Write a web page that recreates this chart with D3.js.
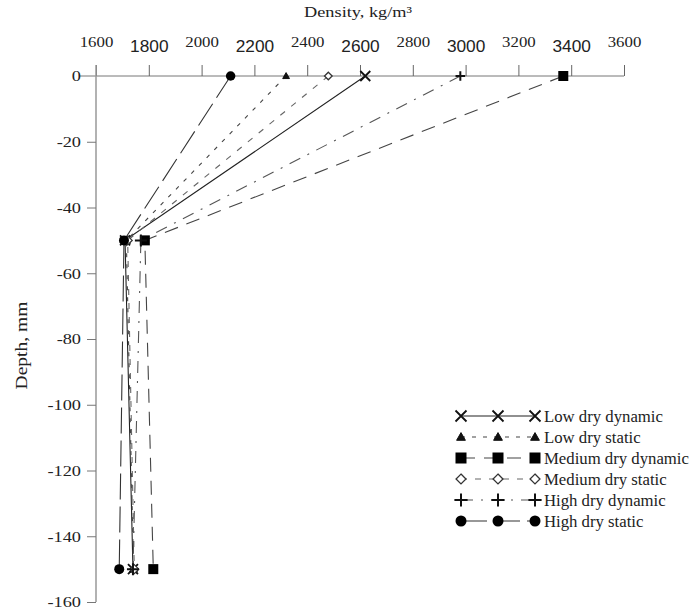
<!DOCTYPE html>
<html>
<head>
<meta charset="utf-8">
<script src="https://cdn.jsdelivr.net/npm/d3@7"></script>
<style>
  html, body { margin: 0; padding: 0; background: #fff; }
  svg { display: block; }
</style>
</head>
<body>
<svg id="chart" width="695" height="612"></svg>
<script>
// Depth levels (mm) at which density was measured
const depths = [0, -50, -150];

// Density (kg/m³) per series at each depth
const lowDryDynamic    = [2620, 1710, 1740];
const lowDryStatic     = [2320, 1715, 1742];
const mediumDryDynamic = [3370, 1785, 1817];
const mediumDryStatic  = [2480, 1720, 1745];
const highDryDynamic   = [2980, 1770, 1740];
const highDryStatic    = [2110, 1706, 1688];

const seriesNames = ["Low dry dynamic", "Low dry static", "Medium dry dynamic",
                     "Medium dry static", "High dry dynamic", "High dry static"];
const seriesValues = [lowDryDynamic, lowDryStatic, mediumDryDynamic,
                      mediumDryStatic, highDryDynamic, highDryStatic];

const densityTicks = [1600, 1800, 2000, 2200, 2400, 2600, 2800, 3000, 3200, 3400, 3600];
const depthTicks = [0, -20, -40, -60, -80, -100, -120, -140, -160];

// Per-series drawing style
const styles = [
  { marker: "x",        dash: null,       stroke: "#222" },
  { marker: "triangle", dash: "4,7",      stroke: "#444" },
  { marker: "square",   dash: "14,9",     stroke: "#444" },
  { marker: "diamond",  dash: "6,8",      stroke: "#666" },
  { marker: "plus",     dash: "12,8,2,8", stroke: "#555" },
  { marker: "circle",   dash: "26,7",     stroke: "#333" }
];

const svg = d3.select("#chart");
const x = d3.scaleLinear().domain([1600, 3600]).range([96, 624]);
const y = d3.scaleLinear().domain([0, -160]).range([76, 602]);

const serif = "'Liberation Serif', 'Times New Roman', serif";
const sans = "'Liberation Sans', Arial, sans-serif";
const stretch = 1.22; // horizontal widening of the serif lettering

// Top density axis
const topAxis = svg.append("g")
  .attr("transform", `translate(0,${y(0)})`)
  .call(d3.axisTop(x).tickValues(densityTicks).tickSize(11).tickSizeOuter(0).tickPadding(14)
    .tickFormat(d => String(d)));
topAxis.select(".domain").attr("stroke", "#777").attr("d", `M${x(1600) - 16},0H${x(3600)}`);
topAxis.selectAll(".tick line").attr("stroke", "#666");
topAxis.selectAll(".tick text")
  .attr("fill", "#222")
  .each(function(d, i) {
    const t = d3.select(this);
    if (i % 2 === 0) {
      t.attr("font-family", serif).attr("font-size", 15).attr("dy", "-0.25em")
        .attr("transform", "scale(1.12,1)");
    } else {
      t.attr("font-family", sans).attr("font-size", 16).attr("dy", "0.05em")
        .attr("transform", "scale(1.08,1)");
    }
  });

// Left depth axis
const leftAxis = svg.append("g")
  .attr("transform", `translate(${x(1600)},0)`)
  .call(d3.axisLeft(y).tickValues(depthTicks).tickSize(9).tickSizeOuter(0).tickPadding(6)
    .tickFormat(d => String(d)));
leftAxis.select(".domain").attr("stroke", "#999").attr("stroke-width", 1.5)
  .attr("d", `M0,${y(0) - 11}V${y(-160)}`);
leftAxis.selectAll(".tick line").attr("stroke", "#777");
leftAxis.selectAll(".tick").filter(d => d === 0).select("line").remove();
leftAxis.selectAll(".tick text")
  .attr("font-family", serif).attr("font-size", 15).attr("fill", "#222")
  .attr("x", -15 / stretch)
  .attr("transform", `scale(${stretch},1)`);

// Axis titles
svg.append("text")
  .attr("transform", `translate(358,17) scale(${stretch},1)`)
  .attr("text-anchor", "middle")
  .attr("font-family", serif).attr("font-size", 15).attr("fill", "#222")
  .text("Density, kg/m³");

svg.append("text")
  .attr("transform", `translate(27,${y(-82)}) rotate(-90) scale(${stretch},1)`)
  .attr("text-anchor", "middle")
  .attr("font-family", serif).attr("font-size", 16).attr("fill", "#222")
  .text("Depth, mm");

// Marker drawing helper
function drawMarker(g, type, cx, cy, scale) {
  const s = scale || 1;
  if (type === "x") {
    const r = 5 * s;
    g.append("path")
      .attr("d", `M${cx - r},${cy - r}L${cx + r},${cy + r}M${cx - r},${cy + r}L${cx + r},${cy - r}`)
      .attr("stroke", "#111").attr("stroke-width", 1.8).attr("fill", "none");
  } else if (type === "triangle") {
    const r = 4 * s;
    g.append("path")
      .attr("d", `M${cx},${cy - r}L${cx + r},${cy + r * 0.75}L${cx - r},${cy + r * 0.75}Z`)
      .attr("fill", "#111").attr("stroke", "#111").attr("stroke-width", 1);
  } else if (type === "square") {
    const r = 5 * s;
    g.append("rect")
      .attr("x", cx - r).attr("y", cy - r).attr("width", 2 * r).attr("height", 2 * r)
      .attr("fill", "#000");
  } else if (type === "diamond") {
    const r = 4.5 * s;
    g.append("path")
      .attr("d", `M${cx},${cy - r}L${cx + r},${cy}L${cx},${cy + r}L${cx - r},${cy}Z`)
      .attr("fill", "#fff").attr("stroke", "#333").attr("stroke-width", 1.3);
  } else if (type === "plus") {
    const r = 6 * s;
    g.append("path")
      .attr("d", `M${cx - r},${cy}H${cx + r}M${cx},${cy - r}V${cy + r}`)
      .attr("stroke", "#111").attr("stroke-width", 2).attr("fill", "none");
  } else if (type === "circle") {
    g.append("circle").attr("cx", cx).attr("cy", cy).attr("r", 5 * s).attr("fill", "#000");
  }
}

// Series lines and markers
const line = d3.line().x(d => x(d[0])).y(d => y(d[1]));
const plot = svg.append("g");
seriesValues.forEach((vals, i) => {
  const pts = vals.map((v, j) => [v, depths[j]]);
  plot.append("path")
    .attr("d", line(pts))
    .attr("fill", "none")
    .attr("stroke", styles[i].stroke)
    .attr("stroke-width", 1.1)
    .attr("stroke-dasharray", styles[i].dash);
});
const markerScale0 = [1, 0.85, 1, 0.85, 0.8, 0.95];
seriesValues.forEach((vals, i) => {
  vals.forEach((v, j) => {
    drawMarker(plot, styles[i].marker, x(v), y(depths[j]), j === 0 ? markerScale0[i] : 1);
  });
});

// Legend
const legend = svg.append("g");
const legX = [461, 498, 535];
const legTextX = 544, legTextRight = 689;
const legTexts = [];
seriesNames.forEach((name, i) => {
  const ly = 416 + i * 21;
  legend.append("path")
    .attr("d", `M${legX[0]},${ly}H${legX[2]}`)
    .attr("stroke", styles[i].stroke).attr("stroke-width", 1.1)
    .attr("stroke-dasharray", styles[i].dash)
    .attr("fill", "none");
  legX.forEach(lx => drawMarker(legend, styles[i].marker, lx, ly, 1.1));
  legTexts.push(legend.append("text")
    .attr("dy", "0.35em")
    .attr("font-family", serif).attr("font-size", 16).attr("fill", "#222")
    .attr("data-y", ly)
    .text(name));
});
// widen the legend lettering so the longest label spans the available room
const widest = d3.max(legTexts, t => t.node().getComputedTextLength());
const legStretch = (legTextRight - legTextX) / widest;
legTexts.forEach(t => t.attr("transform", `translate(${legTextX},${t.attr("data-y")}) scale(${legStretch},1)`));
</script>
</body>
</html>
